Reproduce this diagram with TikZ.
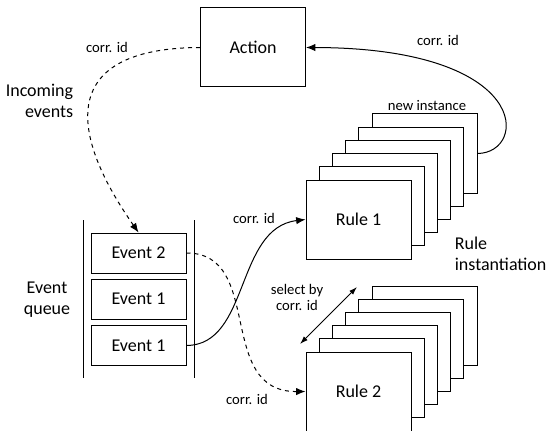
\documentclass[tikz,border=0pt]{standalone}
\usepackage{fontspec}
\setmainfont{Carlito}
\usetikzlibrary{arrows.meta}

\tikzset{
  box/.style={draw, fill=white, line width=0.75pt, inner sep=0pt, font=\fontsize{13.5}{16}\selectfont},
  bigbox/.style={box, minimum width=78.75pt, minimum height=59.25pt},
  evbox/.style={box, minimum width=71.25pt, minimum height=30pt},
  lbl/.style={font=\fontsize{11}{12}\selectfont, inner sep=1pt},
  txt/.style={font=\fontsize{13.5}{16}\selectfont, inner sep=1pt},
  tip/.style={-{Latex[length=7pt,width=5.5pt]}}
}

\begin{document}
\begin{tikzpicture}[x=0.75pt, y=-0.75pt, line width=0.75pt]
        \useasboundingbox (0,0) rectangle (549,431);

        % Action
        \node[bigbox] (action) at (253,47.5) {Action};

        % Event queue
        \draw (83,220) -- (83,378);
        \draw (194,220) -- (194,378);
        \node[evbox] (ev2) at (138.5,253) {Event 2};
        \node[evbox] (ev1a) at (138.5,299) {Event 1};
        \node[evbox] (ev1b) at (138.5,345.5) {Event 1};

        % Rule stacks
        \foreach \i in {5,4,...,1} {
            \node[bigbox] (ra\i) at (358.5+13.2*\i, 219.5-13.2*\i) {};
            \node[bigbox] (rb\i) at (358.5+13.2*\i, 391.5-13.2*\i) {};
        }
        \node[bigbox] (rule1) at (358.5,219.5) {Rule 1};
        \node[bigbox] (rule2) at (358.5,391.5) {Rule 2};

        % Connectors
        \draw[dashed, tip] (action.west) .. controls (70,48) and (60,120) .. (ev2.north);
        \draw[tip] (ra5.east) .. controls (528,153) and (533,48) .. (action.east);
        \draw[tip] (ev1b.east) .. controls (250,345) and (235,228) .. (rule1.west);
        \draw[dashed, tip] (ev2.east) .. controls (265,253) and (215,392) .. (rule2.west);
        \coordinate (selA) at (300,344);
        \coordinate (selB) at (357,287);
        \draw[{Latex[length=6pt,width=4pt]}-{Latex[length=6pt,width=4pt]}] (selA) -- (selB);

        % Labels
        \node[lbl] (cid1) at (107,47) {corr. id};
        \node[lbl] (cid2) at (438,40) {corr. id};
        \node[lbl] (cid3) at (254,218) {corr. id};
        \node[lbl] (cid4) at (247,399) {corr. id};
        \node[lbl] (newinst) at (427,106) {new instance};
        \node[lbl, align=center] (sel) at (297,297) {select by\\corr. id};
        \node[txt, align=right, anchor=east] (inc) at (75,101) {Incoming\\events};
        \node[txt, align=center] (queue) at (47,300) {Event\\queue};
        \node[txt, align=left, anchor=west] (inst) at (453,254) {Rule\\instantiation};
    \end{tikzpicture}
\end{document}
